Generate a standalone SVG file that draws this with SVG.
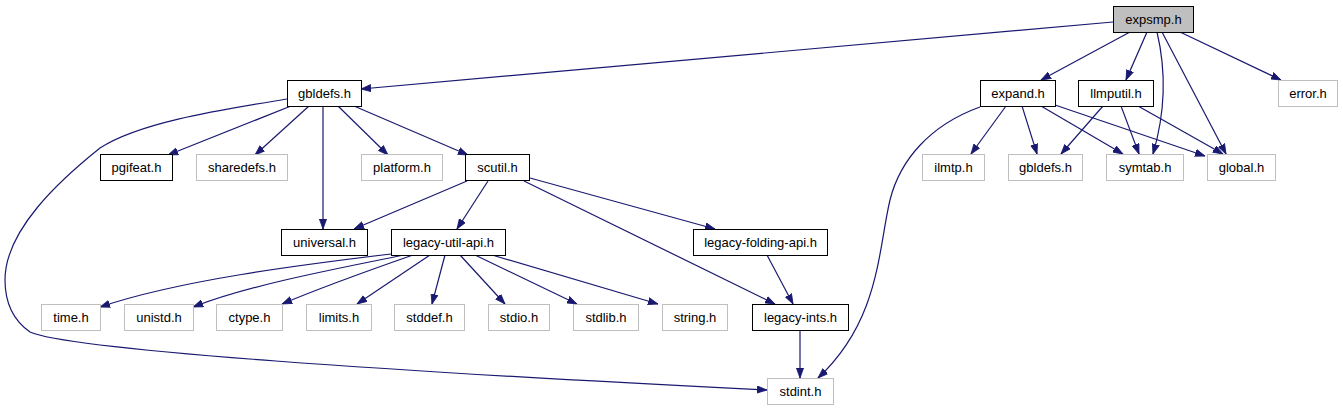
<svg xmlns="http://www.w3.org/2000/svg" width="1343" height="411" viewBox="0 0 1343 411">
<style>
.n rect{fill:#fff;stroke:#000;stroke-width:1}
.n.u rect{stroke:#bfbfbf}
.n.r rect{fill:#bfbfbf}
.n text{font-family:"Liberation Sans",Arial,sans-serif;font-size:13px;text-anchor:middle;fill:#000}
#edges path{fill:none;stroke:#191970;stroke-width:1.2;marker-end:url(#ah)}
</style>
<defs>
<marker id="ah" markerUnits="userSpaceOnUse" markerWidth="11" markerHeight="8" refX="10" refY="4" orient="auto">
<path d="M0,0.4 L10,4 L0,7.6 z" fill="#191970" stroke="#191970" stroke-width="0.8"/>
</marker>
</defs>
<rect width="1343" height="411" fill="#fff"/>
<g id="edges">
<path d="M1113,22 L361,89"/>
<path d="M1130,32 L1041,80"/>
<path d="M1147,32 L1126,80"/>
<path d="M1157,32 C1166,70 1166,110 1153,154"/>
<path d="M1162,32 L1226,154"/>
<path d="M1180,32 L1281,80"/>
<path d="M1006,106 L971,154"/>
<path d="M1022,106 L1037,154"/>
<path d="M1041,106 L1123,154"/>
<path d="M1055,105 L1205,156"/>
<path d="M980,107 C930,125 900,160 890,200 C878,250 880,320 818,378"/>
<path d="M1103,106 L1061,154"/>
<path d="M1121,106 L1139,154"/>
<path d="M1138,106 L1223,154"/>
<path d="M287,99 C220,110 140,122 100,148 C60,180 5,230 5,280 C5,310 20,325 30,332 C70,350 400,372 767,390"/>
<path d="M291,106 L168,155"/>
<path d="M309,106 L255,155"/>
<path d="M323,106 L323,229"/>
<path d="M338,106 L388,155"/>
<path d="M354,106 L468,155"/>
<path d="M467,181 L354,229"/>
<path d="M488,181 L457,229"/>
<path d="M530,178 L715,229"/>
<path d="M524,181 L775,304"/>
<path d="M767,255 L793,304"/>
<path d="M800,330 L800,378"/>
<path d="M391,254 C300,265 180,280 100,307"/>
<path d="M404,255 C330,270 250,285 193,307"/>
<path d="M413,255 C370,270 320,288 282,304"/>
<path d="M430,255 L357,304"/>
<path d="M445,255 L432,304"/>
<path d="M460,255 L505,304"/>
<path d="M475,255 L577,304"/>
<path d="M492,255 L658,304"/>
</g>
<g id="expsmp" class="n r"><rect x="1113.5" y="6.5" width="80" height="26"/><text x="1153.5" y="24">expsmp.h</text></g>
<g id="gbldefs" class="n"><rect x="287.5" y="80.5" width="74" height="26"/><text x="324.5" y="98">gbldefs.h</text></g>
<g id="expand" class="n"><rect x="980.5" y="80.5" width="75" height="26"/><text x="1018" y="98">expand.h</text></g>
<g id="llmputil" class="n"><rect x="1078.5" y="80.5" width="75" height="26"/><text x="1116" y="98">llmputil.h</text></g>
<g id="error" class="n u"><rect x="1278.5" y="80.5" width="59" height="26"/><text x="1308" y="98">error.h</text></g>
<g id="ilmtp" class="n u"><rect x="922.5" y="154.5" width="62" height="26"/><text x="953.5" y="172">ilmtp.h</text></g>
<g id="gbldefs2" class="n u"><rect x="1008.5" y="154.5" width="74" height="26"/><text x="1045.5" y="172">gbldefs.h</text></g>
<g id="symtab" class="n u"><rect x="1106.5" y="154.5" width="77" height="26"/><text x="1145" y="172">symtab.h</text></g>
<g id="global" class="n u"><rect x="1207.5" y="154.5" width="68" height="26"/><text x="1241.5" y="172">global.h</text></g>
<g id="pgifeat" class="n"><rect x="100.5" y="154.5" width="72" height="26"/><text x="136.5" y="172">pgifeat.h</text></g>
<g id="sharedefs" class="n u"><rect x="196.5" y="154.5" width="91" height="26"/><text x="242" y="172">sharedefs.h</text></g>
<g id="platform" class="n u"><rect x="361.5" y="154.5" width="81" height="26"/><text x="402" y="172">platform.h</text></g>
<g id="scutil" class="n"><rect x="465.5" y="154.5" width="64" height="26"/><text x="497.5" y="172">scutil.h</text></g>
<g id="universal" class="n"><rect x="281.5" y="229.5" width="86" height="26"/><text x="324.5" y="247">universal.h</text></g>
<g id="legacy-util-api" class="n"><rect x="391.5" y="229.5" width="114" height="26"/><text x="448.5" y="247">legacy-util-api.h</text></g>
<g id="legacy-folding-api" class="n"><rect x="693.5" y="229.5" width="134" height="26"/><text x="760.5" y="247">legacy-folding-api.h</text></g>
<g id="time" class="n u"><rect x="41.5" y="304.5" width="59" height="26"/><text x="71" y="322">time.h</text></g>
<g id="unistd" class="n u"><rect x="124.5" y="304.5" width="69" height="26"/><text x="159" y="322">unistd.h</text></g>
<g id="ctype" class="n u"><rect x="216.5" y="304.5" width="66" height="26"/><text x="249.5" y="322">ctype.h</text></g>
<g id="limits" class="n u"><rect x="306.5" y="304.5" width="65" height="26"/><text x="339" y="322">limits.h</text></g>
<g id="stddef" class="n u"><rect x="394.5" y="304.5" width="70" height="26"/><text x="429.5" y="322">stddef.h</text></g>
<g id="stdio" class="n u"><rect x="488.5" y="304.5" width="61" height="26"/><text x="519" y="322">stdio.h</text></g>
<g id="stdlib" class="n u"><rect x="573.5" y="304.5" width="65" height="26"/><text x="606" y="322">stdlib.h</text></g>
<g id="string" class="n u"><rect x="662.5" y="304.5" width="65" height="26"/><text x="695" y="322">string.h</text></g>
<g id="legacy-ints" class="n"><rect x="752.5" y="304.5" width="96" height="26"/><text x="800.5" y="322">legacy-ints.h</text></g>
<g id="stdint" class="n u"><rect x="767.5" y="378.5" width="66" height="26"/><text x="800.5" y="396">stdint.h</text></g>
</svg>
